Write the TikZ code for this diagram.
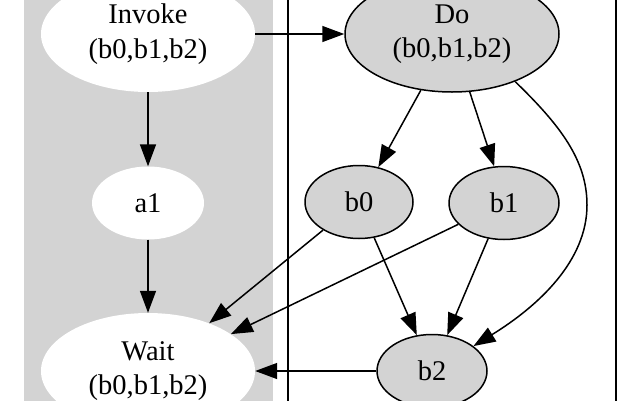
\documentclass[tikz,border=0pt]{standalone}
\usepackage{fontspec}
\setmainfont{Liberation Serif}
\usetikzlibrary{shapes.geometric,arrows.meta}
\definecolor{lightgrey}{HTML}{D3D3D3}
\begin{document}
\begin{tikzpicture}[x=1pt,y=-1pt,
  lbl/.style={font=\fontsize{28.5}{34.5}\selectfont, align=center, inner sep=0pt},
  bignode/.style={lbl, ellipse, minimum width=214pt, minimum height=116pt},
  smallnode/.style={lbl, ellipse, minimum width=110pt, minimum height=73pt},
  grayfill/.style={fill=lightgrey, draw=black, line width=1.5pt},
  whitefill/.style={fill=white},
  edge/.style={line width=1.5pt, -{Triangle[length=22pt,width=16pt]}}
]
\useasboundingbox (0,0) rectangle (640,400);
\clip (0,0) rectangle (640,400);
% clusters
\fill[lightgrey] (24,-10) rectangle (273,410);
\draw[line width=1.5pt] (288,-10) rectangle (616,410);
% nodes
\node[bignode, whitefill] (Invoke) at (148,34) {Invoke\\(b0,b1,b2)};
\node[smallnode, whitefill, minimum width=112pt] (a1) at (148,203) {a1};
\node[bignode, whitefill] (Wait) at (148,371) {Wait\\(b0,b1,b2)};
\node[bignode, grayfill] (Do) at (452,34) {Do\\(b0,b1,b2)};
\node[smallnode, grayfill, minimum width=108pt] (b0) at (359,202) {b0};
\node[smallnode, grayfill] (b1) at (504,203) {b1};
\node[smallnode, grayfill] (b2) at (432,371) {b2};
% edges
\draw[edge] (Invoke.east) -- (Do.west);
\draw[edge] (Invoke.south) -- (a1.north);
\draw[edge] (a1.south) -- (Wait.north);
\draw[edge] (Do.241) -- (b0.61);
\draw[edge] (Do.287) -- (b1.105);
\draw[edge] (Do.323) .. controls (560,125) and (587,160) .. (587,205) .. controls (587,260) and (540,305) .. (b2.31);
\draw[edge] (b0.293) -- (b2.113);
\draw[edge] (b1.246) -- (b2.67);
\draw[edge] (b0.218) -- (Wait.38);
\draw[edge] (b1.205) -- (Wait.24);
\draw[edge] (b2.west) -- (Wait.east);
\end{tikzpicture}
\end{document}
